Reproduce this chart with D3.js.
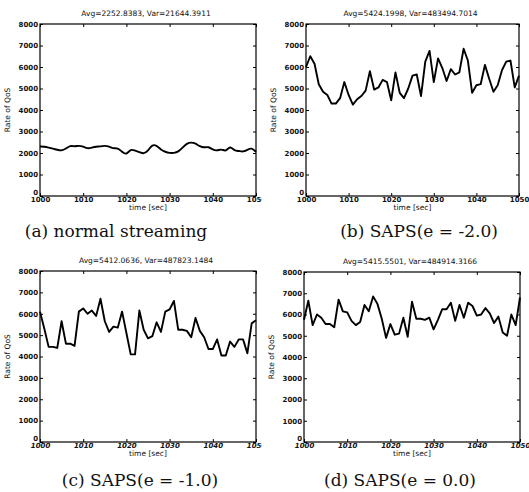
<!DOCTYPE html>
<html>
<head>
<meta charset="utf-8">
<script src="https://cdn.jsdelivr.net/npm/d3@7"></script>
<style>
body { margin: 0; background: #fff; }
</style>
</head>
<body>
<div id="chart"></div>
<script>
// one sample per second, 1000..1050
var seconds = d3.range(1000, 1051);

var rateNormal = [2300, 2300, 2250, 2200, 2150, 2100, 2200, 2350, 2300, 2350,
	2300, 2200, 2250, 2300, 2300, 2350, 2300, 2200, 2250, 2050,
	1900, 2200, 2100, 2050, 1950, 2100, 2400, 2350, 2150, 2050,
	2000, 2000, 2050, 2250, 2450, 2500, 2450, 2300, 2250, 2300,
	2150, 2100, 2200, 2050, 2350, 2100, 2100, 2050, 2150, 2250, 2050];

var rateSapsM2 = [6000, 6500, 6150, 5200, 4850, 4700, 4300, 4300, 4550, 5300,
	4700, 4250, 4500, 4650, 4900, 5800, 4950, 5050, 5400, 5300,
	4450, 5750, 4800, 4550, 5000, 5600, 5650, 4650, 6250, 6750,
	5300, 6400, 5950, 5350, 5900, 5650, 5750, 6850, 6300, 4800,
	5150, 5200, 6100, 5450, 4850, 5150, 5850, 6250, 6300, 5050, 5600];

var rateSapsM1 = [6100, 5300, 4450, 4450, 4400, 5650, 4600, 4600, 4500, 6100,
	6250, 6000, 6150, 5900, 6700, 5650, 5150, 5400, 5350, 6100,
	5100, 4100, 4100, 6150, 5250, 4850, 4950, 5600, 5150, 6100,
	6200, 6600, 5250, 5250, 5200, 4900, 5800, 5200, 4900, 4350,
	4350, 4800, 4050, 4050, 4700, 4450, 4800, 4800, 4150, 5550, 5700];

var rateSaps0 = [5750, 6650, 5500, 6000, 5850, 5550, 5550, 5400, 6700, 6150,
	6100, 5700, 5500, 5650, 6450, 6150, 6850, 6500, 5800, 4900,
	5550, 5050, 5100, 5850, 4950, 6600, 5800, 5800, 5750, 5850,
	5300, 5750, 6250, 6250, 6550, 5700, 6450, 5850, 6550, 6400,
	5950, 6000, 6300, 6050, 5600, 5900, 5150, 5000, 6000, 5500, 6800];

var plotTitles = ["Avg=2252.8383, Var=21644.3911", "Avg=5424.1998, Var=483494.7014",
	"Avg=5412.0636, Var=487823.1484", "Avg=5415.5501, Var=484914.3166"];
var captions = ["(a) normal streaming", "(b) SAPS(e = -2.0)", "(c) SAPS(e = -1.0)", "(d) SAPS(e = 0.0)"];
var yTicks = [0, 1000, 2000, 3000, 4000, 5000, 6000, 7000, 8000];
var xTicks = [1000, 1010, 1020, 1030, 1040, 1050];

var w = 529, h = 492;

var svg = d3.select("#chart").append("svg")
	.attr("width", w)
	.attr("height", h);

// panel boxes in page pixels
var panels = [
	{series: rateNormal, left: 40, right: 256, top: 24, bottom: 196, clipR: 262, capX: 116, capY: 237, smooth: true, italic: false},
	{series: rateSapsM2, left: 306, right: 519, top: 24, bottom: 196, clipR: 529, capX: 419, capY: 237, smooth: false, italic: false},
	{series: rateSapsM1, left: 40, right: 256, top: 271, bottom: 442, clipR: 262, capX: 140, capY: 486, smooth: false, italic: true},
	{series: rateSaps0, left: 304, right: 520, top: 272, bottom: 442, clipR: 529, capX: 400, capY: 486, smooth: false, italic: true}
];

var tickFont = "'DejaVu Sans', sans-serif";

panels.forEach(function(p, i) {
	var x = d3.scaleLinear().domain([1000, 1050]).range([p.left, p.right]);
	var y = d3.scaleLinear().domain([0, 8000]).range([p.bottom, p.top]);

	svg.append("clipPath").attr("id", "clip" + i)
		.append("rect")
		.attr("x", p.left - 40).attr("y", p.top - 30)
		.attr("width", p.clipR - p.left + 40).attr("height", 260);

	var g = svg.append("g").attr("clip-path", "url(#clip" + i + ")");

	// ticks pointing into the box on all four sides
	var axes = [
		{ax: d3.axisLeft(y).tickValues(yTicks), tr: "translate(" + p.left + ",0)", lab: true},
		{ax: d3.axisRight(y).tickValues(yTicks), tr: "translate(" + p.right + ",0)", lab: false},
		{ax: d3.axisBottom(x).tickValues(xTicks), tr: "translate(0," + p.bottom + ")", lab: true},
		{ax: d3.axisTop(x).tickValues(xTicks), tr: "translate(0," + p.top + ")", lab: false}
	];
	axes.forEach(function(a, k) {
		var ag = g.append("g")
			.attr("transform", a.tr)
			.call(a.ax.tickSize(-3).tickPadding(k == 2 ? 1 : 2).tickFormat(d3.format("d")));
		ag.select(".domain").remove();
		ag.selectAll("line").attr("stroke", "#000").attr("stroke-width", 1);
		if (!a.lab) ag.selectAll("text").remove();
		ag.selectAll("text")
			.attr("font-family", tickFont)
			.attr("font-size", "7px")
			.attr("font-weight", "bold")
			.attr("fill", "#111");
		if (k == 2 && p.italic) ag.selectAll("text").attr("font-style", "italic");
		// the zero label sits a little above the corner
		if (k == 0) ag.selectAll("text").filter(function(d) { return d === 0; }).attr("dy", "-0.2em");
	});

	g.append("rect")
		.attr("x", p.left).attr("y", p.top)
		.attr("width", p.right - p.left).attr("height", p.bottom - p.top)
		.attr("fill", "none")
		.attr("stroke", "#000")
		.attr("stroke-width", 1.2);

	var line = d3.line()
		.x(function(d, j) { return x(seconds[j]); })
		.y(function(d) { return y(d); })
		.curve(p.smooth ? d3.curveBasis : d3.curveLinear);

	g.append("path")
		.datum(p.series)
		.attr("d", line)
		.attr("fill", "none")
		.attr("stroke", "#000")
		.attr("stroke-width", 1.9)
		.attr("stroke-linejoin", "round");

	var mid = (p.left + p.right) / 2;

	g.append("text")
		.text(plotTitles[i])
		.attr("x", mid - 2)
		.attr("y", p.top - 8)
		.attr("text-anchor", "middle")
		.attr("font-family", tickFont)
		.attr("font-size", "7.5px")
		.attr("fill", "#111");

	g.append("text")
		.text("time [sec]")
		.attr("x", mid)
		.attr("y", p.bottom + 14)
		.attr("text-anchor", "middle")
		.attr("font-family", tickFont)
		.attr("font-size", "7.5px")
		.attr("fill", "#111");

	g.append("text")
		.text("Rate of QoS")
		.attr("transform", "translate(" + (p.left - 30) + "," + ((p.top + p.bottom) / 2) + ") rotate(-90)")
		.attr("text-anchor", "middle")
		.attr("font-family", tickFont)
		.attr("font-size", "7.5px")
		.attr("fill", "#111");

	svg.append("text")
		.text(captions[i])
		.attr("x", p.capX)
		.attr("y", p.capY)
		.attr("text-anchor", "middle")
		.attr("font-family", "'DejaVu Serif', serif")
		.attr("font-size", "17px")
		.attr("fill", "#111");
});
</script>
</body>
</html>
